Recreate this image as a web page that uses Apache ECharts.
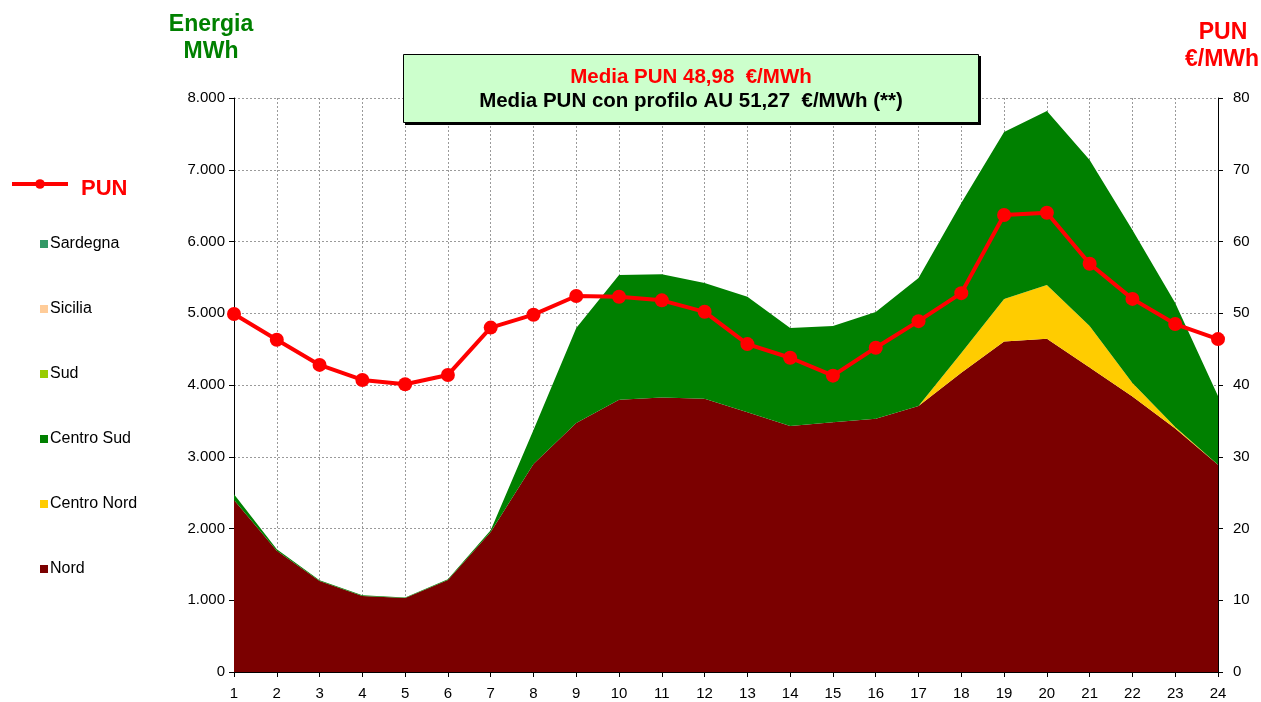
<!DOCTYPE html>
<html>
<head>
<meta charset="utf-8">
<script src="https://cdn.jsdelivr.net/npm/echarts@6/dist/echarts.min.js"></script>
<style>
html,body{margin:0;padding:0;background:#fff;}
#chart{width:1261px;height:702px;}
</style>
</head>
<body>
<div id="chart"></div>
<script>
var hours = ['1','2','3','4','5','6','7','8','9','10','11','12','13','14','15','16','17','18','19','20','21','22','23','24'];
var nord = [2397,1690,1268,1059,1031,1282,1951,2899,3470,3795,3825,3810,3620,3430,3480,3530,3707,4170,4605,4645,4245,3840,3395,2890];
var centroNord = [0,0,0,0,0,0,0,0,0,0,0,0,0,0,0,0,0,276,594,749,577,188,20,0];
var centroSud = [80,20,12,9,9,10,24,474,1324,1738,1718,1610,1611,1364,1342,1487,1784,2091,2327,2425,2314,2132,1728,957];
var sud = [0,0,0,0,0,0,0,0,0,0,0,0,0,0,0,0,0,0,0,0,0,0,0,0];
var sicilia = [0,0,0,0,0,0,0,0,0,0,0,0,0,0,0,0,0,0,0,0,0,0,0,0];
var sardegna = [0,0,0,0,0,0,0,0,0,0,0,0,0,0,0,0,0,0,0,0,0,0,0,0];
var pun = [49.9,46.3,42.8,40.7,40.1,41.4,48.0,49.8,52.4,52.3,51.8,50.2,45.7,43.8,41.3,45.2,48.9,52.8,63.7,64.0,56.9,52.0,48.5,46.4];
var leftTicks = [0,1000,2000,3000,4000,5000,6000,7000,8000];
var rightTicks = [0,10,20,30,40,50,60,70,80];

var FONT = '"Liberation Sans", Arial, sans-serif';
var chart = echarts.init(document.getElementById('chart'), null, {renderer:'canvas'});

function areaSeries(name, data, color){
  return {
    name: name, type: 'line', stack: 'zone', data: data,
    symbol: 'none', lineStyle: {width: 0}, itemStyle: {color: color},
    areaStyle: {color: color, opacity: 1}, z: 2
  };
}
var gridLine = {show: true, lineStyle: {color: '#9a9a9a', type: [2,2], width: 1}};

var option = {
  animation: false,
  backgroundColor: '#fff',
  textStyle: {fontFamily: FONT},
  grid: {left: 234, right: 43, top: 98, bottom: 30, containLabel: false},
  legend: [
    {
      data: [{name: 'PUN', lineStyle: {width: 4, color: '#ff0000'}, itemStyle: {color: '#ff0000'}}],
      formatter: '{p|{name}}',
      textStyle: {rich: {p: {color: '#ff0000', fontSize: 22, fontWeight: 'bold', fontFamily: FONT, padding: [10,0,0,8]}}},
      left: 10, top: 178, padding: 0, itemWidth: 56, itemHeight: 12, selectedMode: false
    },
    {
      data: ['Sardegna','Sicilia','Sud','Centro Sud','Centro Nord','Nord'],
      orient: 'vertical', left: 40, top: 236, padding: 0, icon: 'rect', itemWidth: 8, itemHeight: 8,
      itemGap: 49, selectedMode: false,
      textStyle: {color: '#000', fontSize: 16, fontFamily: FONT, padding: [0,0,0,-3]}
    }
  ],
  xAxis: {
    type: 'category', data: hours, boundaryGap: false,
    axisLine: {lineStyle: {color: '#000', width: 1}},
    axisTick: {show: true, length: 5, lineStyle: {color: '#000'}},
    axisLabel: {color: '#000', fontSize: 15, margin: 14, fontFamily: FONT, interval: 0},
    splitLine: gridLine
  },
  yAxis: [
    {
      type: 'value', min: 0, max: 8000, interval: 1000, position: 'left',
      axisLine: {show: true, lineStyle: {color: '#000', width: 1}},
      axisTick: {show: true, length: 5, lineStyle: {color: '#000'}},
      axisLabel: {color: '#000', fontSize: 15, margin: 9, fontFamily: FONT,
        formatter: function(v){ return leftTicks.indexOf(v) >= 0 ? (v === 0 ? '0' : (v/1000) + '.000') : ''; }},
      splitLine: gridLine
    },
    {
      type: 'value', min: 0, max: 80, interval: 10, position: 'right',
      axisLine: {show: true, lineStyle: {color: '#000', width: 1}},
      axisTick: {show: true, length: 5, lineStyle: {color: '#000'}},
      axisLabel: {color: '#000', fontSize: 15, margin: 15, fontFamily: FONT,
        formatter: function(v){ return rightTicks.indexOf(v) >= 0 ? String(v) : ''; }},
      splitLine: {show: false}
    }
  ],
  series: [
    areaSeries('Nord', nord, '#7b0000'),
    areaSeries('Centro Nord', centroNord, '#ffcc00'),
    areaSeries('Centro Sud', centroSud, '#008000'),
    areaSeries('Sud', sud, '#99cc00'),
    areaSeries('Sicilia', sicilia, '#ffcc99'),
    areaSeries('Sardegna', sardegna, '#339966'),
    {
      name: 'PUN', type: 'line', yAxisIndex: 1, data: pun,
      symbol: 'circle', symbolSize: 14,
      lineStyle: {color: '#ff0000', width: 4},
      itemStyle: {color: '#ff0000'}, z: 5
    }
  ],
  graphic: [
    {type: 'text', x: 211, y: 25, style: {text: 'Energia', fill: '#008000', font: 'bold 23px ' + FONT, textAlign: 'center', textVerticalAlign: 'middle'}},
    {type: 'text', x: 211, y: 52, style: {text: 'MWh', fill: '#008000', font: 'bold 23px ' + FONT, textAlign: 'center', textVerticalAlign: 'middle'}},
    {type: 'text', x: 1223, y: 33, style: {text: 'PUN', fill: '#ff0000', font: 'bold 23px ' + FONT, textAlign: 'center', textVerticalAlign: 'middle'}},
    {type: 'text', x: 1222, y: 60, style: {text: '€/MWh', fill: '#ff0000', font: 'bold 23px ' + FONT, textAlign: 'center', textVerticalAlign: 'middle'}},
    {type: 'rect', shape: {x: 405, y: 56, width: 576, height: 69}, z: 9, style: {fill: '#000'}},
    {type: 'rect', shape: {x: 403.5, y: 54.5, width: 575, height: 68}, z: 10,
      style: {fill: '#ccffcc', stroke: '#000', lineWidth: 1}},
    {type: 'text', z: 11, x: 691, y: 77, style: {text: 'Media PUN 48,98  €/MWh', fill: '#ff0000', font: 'bold 20.5px ' + FONT, textAlign: 'center', textVerticalAlign: 'middle'}},
    {type: 'text', z: 11, x: 691, y: 101, style: {text: 'Media PUN con profilo AU 51,27  €/MWh (**)', fill: '#000', font: 'bold 20.5px ' + FONT, textAlign: 'center', textVerticalAlign: 'middle'}}
  ]
};
chart.setOption(option);
</script>
</body>
</html>
